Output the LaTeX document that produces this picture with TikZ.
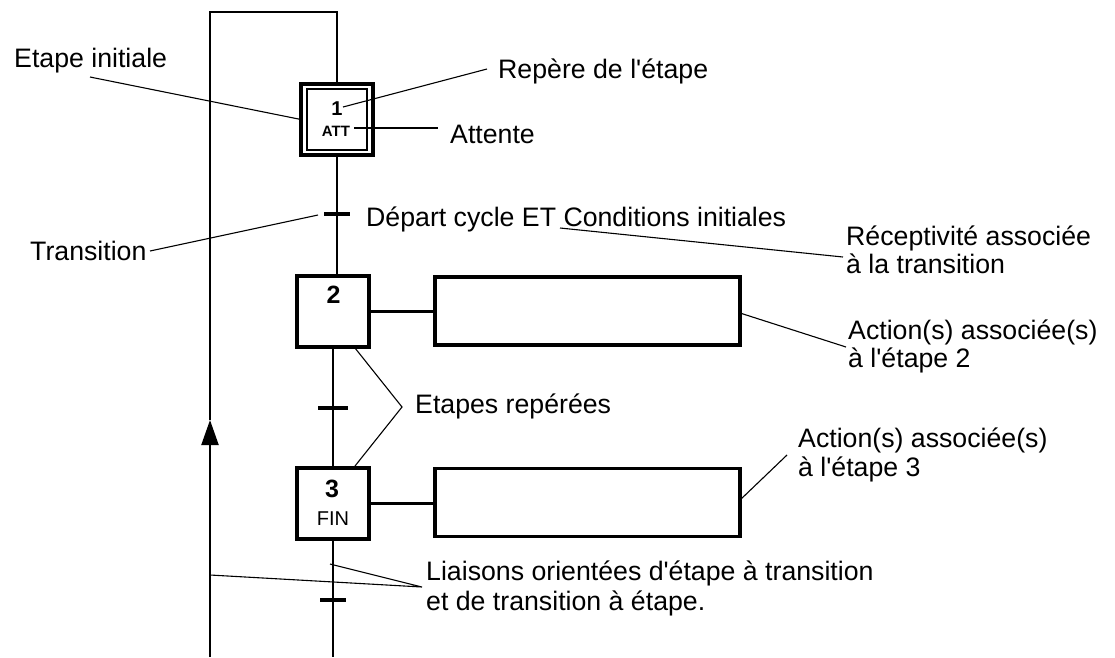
\documentclass[tikz,border=0pt]{standalone}
\usepackage{fontspec}
\setmainfont{Liberation Sans}
\usetikzlibrary{arrows.meta,calc}
\newcommand{\q}{\textquotesingle}
\begin{document}
\begin{tikzpicture}[x=1pt,y=-1pt,
  lbl/.style={anchor=base west,inner sep=0pt,font=\fontsize{26.7}{30}\selectfont},
  stepbox/.style={draw,line width=3.8pt,minimum width=72pt,minimum height=71pt,outer sep=0pt,inner sep=0pt},
  actbox/.style={draw,line width=3.4pt,minimum width=305pt,minimum height=68pt,outer sep=0pt,inner sep=0pt},
  link/.style={line width=2.1pt},
  lead/.style={line width=1.1pt},
  tickline/.style={line width=3.2pt},
  num/.style={inner sep=0pt,font=\bfseries\fontsize{25}{25}\selectfont},
]
\useasboundingbox (0,0) rectangle (1115,657);

% steps
\node[stepbox,line width=4pt] (s1) at (337,119.5) {};
\draw[line width=1.7pt] ($(s1.north west)+(6,5)$) rectangle ($(s1.south east)+(-6,-5)$);
\node[num,font=\bfseries\fontsize{20}{20}\selectfont] (n1) at (337,109) {1};
\node[inner sep=0pt,font=\bfseries\fontsize{15}{15}\selectfont] (att) at (336,131.5) {ATT};

\node[stepbox] (s2) at (333,311.5) {};
\node[num] (n2) at (333.5,294.5) {2};

\node[stepbox] (s3) at (333,503.5) {};
\node[num] (n3) at (332,488.5) {3};
\node[inner sep=0pt,font=\fontsize{20}{20}\selectfont] (fin) at (333,519) {FIN};

% actions
\node[actbox] (a2) at (587.5,311) {};
\node[actbox] (a3) at (587.5,502.5) {};
\draw[link] (s2.east) -- (s2.east -| a2.west);
\draw[link] (s3.east) -- (s3.east -| a3.west);

% main links
\coordinate (top) at (210,12);
\coordinate (bot) at (210,657);
\coordinate (arr) at (210,420);
\coordinate (end) at (333,657);
\draw[link,-{Triangle[length=25pt,width=17pt]}] (bot) -- (arr);
\draw[link] (arr) -- (top) -- (top -| s1.north) -- (s1.north);
\draw[link] (s1.south) -- (s1.south |- s2.north);
\draw[link] (s2.south) -- (s3.north);
\draw[link] (s3.south) -- (end);

% transitions
\coordinate (t1) at (337,214);
\coordinate (t2) at (333,408);
\coordinate (t3) at (333,600);
\draw[tickline] ($(t1)+(-13,0)$) -- ($(t1)+(13,0)$);
\draw[tickline] ($(t2)+(-15,0)$) -- ($(t2)+(15,0)$);
\draw[tickline] ($(t3)+(-13,0)$) -- ($(t3)+(13,0)$);

% labels
\node[lbl] (ei) at (14,67) {Etape initiale};
\node[lbl] (rep) at (498,78) {Repère de l\q étape};
\node[lbl] (atl) at (450,143) {Attente};
\node[lbl] (tr) at (30,260) {Transition};
\node[lbl] (dep) at (366,226) {Départ cycle ET Conditions initiales};
\node[lbl] (rec1) at (846,245) {Réceptivité associée};
\node[lbl] (rec2) at (846,273) {à la transition};
\node[lbl] (act2a) at (848,339) {Action(s) associée(s)};
\node[lbl] (act2b) at (848,367) {à l\q étape 2};
\node[lbl] (er) at (415,413) {Etapes repérées};
\node[lbl] (act3a) at (798,447) {Action(s) associée(s)};
\node[lbl] (act3b) at (798,476) {à l\q étape 3};
\node[lbl] (li1) at (426,580) {Liaisons orientées d\q étape à transition};
\node[lbl] (li2) at (426,610) {et de transition à étape.};

% leader lines
\coordinate (eiA) at (90,77);
\draw[lead] (eiA) -- (s1.west);
\coordinate (repA) at (487,69);
\coordinate (repB) at (343,107);
\draw[lead] (repA) -- (repB);
\coordinate (atA) at (354,128);
\coordinate (atB) at (438,128);
\draw[lead] (atA) -- (atB);
\coordinate (trA) at (150,251);
\coordinate (trB) at (318,215);
\draw[lead] (trA) -- (trB);
\coordinate (depA) at (560,228);
\coordinate (depB) at (843,257);
\draw[lead] (depA) -- (depB);
\coordinate (a2A) at (740,313);
\coordinate (a2B) at (846,347);
\draw[lead] (a2A) -- (a2B);
\coordinate (erA) at (355,348);
\coordinate (erB) at (402,407);
\coordinate (erC) at (355,466);
\draw[lead] (erA) -- (erB) -- (erC);
\coordinate (a3A) at (740,500);
\coordinate (a3B) at (787,455);
\draw[lead] (a3A) -- (a3B);
\coordinate (liA) at (330,564);
\coordinate (liB) at (422,587);
\coordinate (liC) at (210,575);
\draw[lead] (liA) -- (liB) -- (liC);
\end{tikzpicture}
\end{document}
